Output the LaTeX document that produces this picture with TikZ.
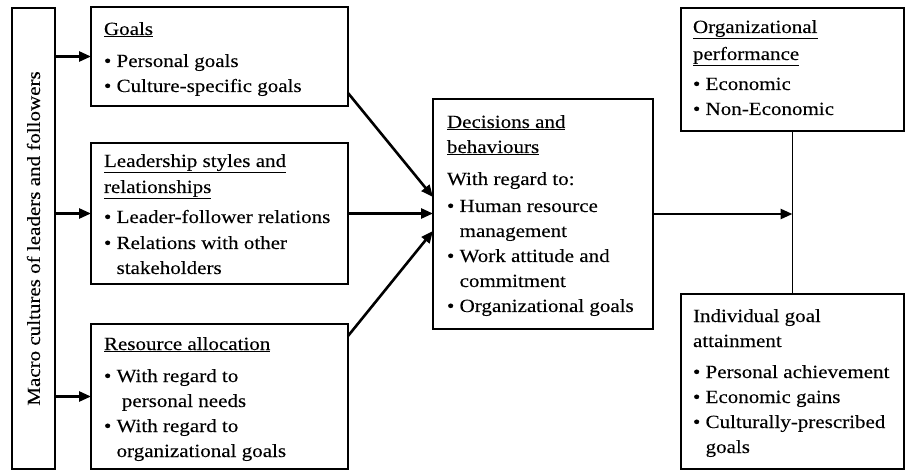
\documentclass[tikz,border=0pt]{standalone}
\usepackage{fontspec}
\setmainfont{Liberation Serif}[FakeStretch=1.13,FakeBold=0.15]
\usetikzlibrary{arrows.meta,calc}
\newcommand{\bul}{\textbullet\ }
\newcommand{\ind}{\hphantom{\textbullet\ }}
\newcommand{\tp}{\rule{0pt}{20pt}}
\begin{document}
\begin{tikzpicture}[x=1pt,y=-1pt,
  box/.style={draw,line width=1.4pt,rectangle,inner sep=0pt,outer sep=0pt,anchor=north west},
  txt/.style={anchor=north west,inner sep=0pt,outer sep=0pt,align=left,font=\fontsize{18.6}{25}\selectfont},
  arr/.style={line width=2.6pt,-{Triangle[length=12pt,width=10pt]}},
  ln/.style={line width=1.4pt}]
\useasboundingbox (0,0) rectangle (905,470);
% boxes
\node[box,minimum width=43pt,minimum height=461pt] (macro) at (12,8) {};
\node[box,minimum width=257pt,minimum height=99pt] (goals) at (91,7) {};
\node[box,minimum width=257pt,minimum height=141pt] (lead) at (91,143) {};
\node[box,minimum width=257pt,minimum height=145pt] (res) at (91,324) {};
\node[box,minimum width=220pt,minimum height=230pt] (dec) at (433,99) {};
\node[box,minimum width=223pt,minimum height=123pt] (org) at (681,8) {};
\node[box,minimum width=223pt,minimum height=175pt] (indv) at (681,294) {};
% texts
\node[txt,anchor=center,rotate=90] (macroT) at (macro.center) {Macro cultures of leaders and followers};
\node[txt] (goalsT) at (104,15) {\tp\underline{Goals}\\[7pt]
 \bul Personal goals\\
 \bul Culture-specific goals};
\node[txt] (leadT) at (104,147) {\tp\underline{Leadership styles and}\\[1pt]
 \underline{relationships}\\[5pt]
 \bul Leader-follower relations\\[1pt]
 \bul Relations with other\\
 \ind stakeholders};
\node[txt] (resT) at (104,330) {\tp\underline{Resource allocation}\\[7pt]
 \bul With regard to\\
 \ind\ personal needs\\
 \bul With regard to\\
 \ind organizational goals};
\node[txt] (decT) at (447,108) {\tp\underline{Decisions and}\\
 \underline{behaviours}\\[7pt]
 With regard to:\\[2pt]
 \bul Human resource\\
 \ind management\\
 \bul Work attitude and\\
 \ind commitment\\
 \bul Organizational goals};
\node[txt] (orgT) at (693,13) {\tp\underline{Organizational}\\[2pt]
 \underline{performance}\\[5pt]
 \bul Economic\\
 \bul Non-Economic};
\node[txt] (indT) at (693,302) {\tp Individual goal\\
 attainment\\[6pt]
 \bul Personal achievement\\
 \bul Economic gains\\
 \bul Culturally-prescribed\\
 \ind goals};
% connectors
\draw[arr] (macro.east |- goals.west) -- (goals.west);
\draw[arr] (macro.east |- lead.west) -- (lead.west);
\draw[arr] (macro.east |- res.west) -- (res.west);
\draw[arr] ($(goals.south east)+(0,-13)$) -- ($(dec.west)+(0,-17)$);
\draw[arr] (lead.east) -- (dec.west |- lead.east);
\draw[arr] ($(res.north east)+(0,12)$) -- ($(dec.west)+(0,17)$);
\draw[arr] (dec.east) -- (org.south |- dec.east);
\draw[ln] (org.south) -- (indv.north);
\end{tikzpicture}
\end{document}
